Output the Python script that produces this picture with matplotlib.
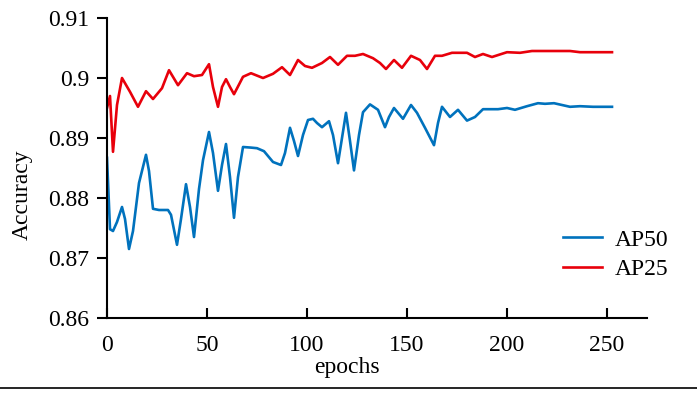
import matplotlib.pyplot as plt
from matplotlib.lines import Line2D

plt.rcParams['font.family'] = ['Liberation Serif', 'DejaVu Serif']

# AP50 curve (blue)
ep50 = [0, 1.5, 3, 5, 7.5, 9, 11, 13, 16, 19.5, 21, 23, 26, 30.5, 32, 35, 37, 39.5, 41.5, 43.5,
        46, 48, 51, 53, 55.5, 57.5, 59.5, 61.5, 63.5, 65.5, 68, 72, 75, 78.5, 81, 83, 87, 89,
        91.5, 93.5, 95.5, 98, 100.5, 103, 105, 107.5, 111, 113, 115.5, 117.5, 119.5, 121.5, 123.5,
        126, 128, 131.5, 135.5, 139, 141, 143.5, 148, 152, 155, 159, 163.5, 165.5, 167.5, 171.5,
        175.5, 180, 184, 188, 195.5, 200, 204, 210, 215.5, 219, 223.5, 231.5, 236.5, 243, 252.5]
ap50 = [0.8867, 0.8748, 0.8745, 0.876, 0.8785, 0.8765, 0.8715, 0.8745, 0.8825, 0.8872, 0.8845, 0.8782,
        0.878, 0.878, 0.8772, 0.8722, 0.8765, 0.8823, 0.8785, 0.8735,
        0.8815, 0.8863, 0.891, 0.8875, 0.8812, 0.8855, 0.889, 0.8835, 0.8767, 0.8835, 0.8885, 0.8884,
        0.8883, 0.8878, 0.8868, 0.886, 0.8855, 0.8875,
        0.8917, 0.8895, 0.887, 0.8905, 0.893, 0.8932, 0.8925, 0.8918, 0.8928, 0.8905, 0.8858, 0.89,
        0.8942, 0.8895, 0.8846, 0.8905, 0.8943, 0.8956, 0.8947, 0.8918, 0.8935, 0.895,
        0.8932, 0.8955, 0.8942, 0.8917, 0.8888, 0.8925, 0.8952, 0.8935,
        0.8947, 0.8929, 0.8935, 0.8948, 0.8948, 0.895, 0.8947, 0.8953, 0.8958, 0.8957, 0.8958,
        0.8952, 0.8953, 0.8952, 0.8952]

# AP25 curve (red)
ep25 = [0, 1.5, 3, 5, 7.5, 11.5, 15.5, 19.5, 23, 27.5, 31, 35.5, 40, 43.5, 47.5, 51, 53, 55.5,
        57.5, 59.5, 61.5, 63.5, 68, 72, 78, 83, 87.5, 91.5, 95.5, 99, 102.5, 107.5, 111.5, 115.5,
        120, 124, 128, 133, 136.5, 139.5, 143.5, 147.5, 152, 156.5, 160, 164, 167.5, 172.5, 180,
        184, 188, 192.5, 200, 206.5, 212.5, 231.5, 236.5, 252.5]
ap25 = [0.895, 0.897, 0.8877, 0.8955, 0.9, 0.8977, 0.8952, 0.8978, 0.8965, 0.8983, 0.9013, 0.8988,
        0.9008, 0.9003, 0.9005, 0.9023, 0.8985, 0.8952,
        0.8985, 0.8998, 0.8985, 0.8973, 0.9002, 0.9008, 0.9, 0.9007, 0.9018, 0.9005, 0.903, 0.902,
        0.9017, 0.9025, 0.9035, 0.9022,
        0.9037, 0.9037, 0.904, 0.9033, 0.9025, 0.9015, 0.903, 0.9017, 0.9037, 0.903, 0.9015, 0.9037,
        0.9037, 0.9042, 0.9042,
        0.9035, 0.904, 0.9035, 0.9043, 0.9042, 0.9045, 0.9045, 0.9043, 0.9043]

W, H = 697, 393
fig = plt.figure(figsize=(W / 100, H / 100), dpi=100)
ax = fig.add_axes([107 / W, 1 - 318 / H, 540 / W, 300 / H])

ax.plot(ep50, ap50, color='#0072BD', lw=1.9, label='AP50')
ax.plot(ep25, ap25, color='#E8000B', lw=1.9, label='AP25')

ax.set_xlim(0, 270)
ax.set_ylim(0.86, 0.91)
ax.set_xticks([0, 50, 100, 150, 200, 250])
ax.set_yticks([0.86, 0.87, 0.88, 0.89, 0.9, 0.91])
ax.set_yticklabels(['0.86', '0.87', '0.88', '0.89', '0.9', '0.91'])

for s in ['top', 'right']:
    ax.spines[s].set_visible(False)
for s in ['left', 'bottom']:
    ax.spines[s].set_linewidth(1.5)

ax.tick_params(axis='x', direction='in', length=7, width=1.5, pad=12, labelsize=17)
ax.tick_params(axis='y', direction='out', length=7, width=1.5, pad=6, labelsize=17)

fig.text(347 / W, 1 - 368 / H, 'epochs', fontsize=17, ha='center', va='center')
fig.text(22 / W, 1 - 195 / H, 'Accuracy', fontsize=17, ha='center', va='center', rotation=90)

ax.legend(loc='upper left', bbox_to_anchor=(563 / W, 1 - 229 / H), bbox_transform=fig.transFigure,
          frameon=False, fontsize=17, borderpad=0, borderaxespad=0,
          handlelength=1.65, handletextpad=0.55, labelspacing=0.35)

fig.add_artist(Line2D([0, 1], [0.013, 0.013], color='black', lw=1.2, transform=fig.transFigure))

fig.savefig('out.png', dpi=100)
